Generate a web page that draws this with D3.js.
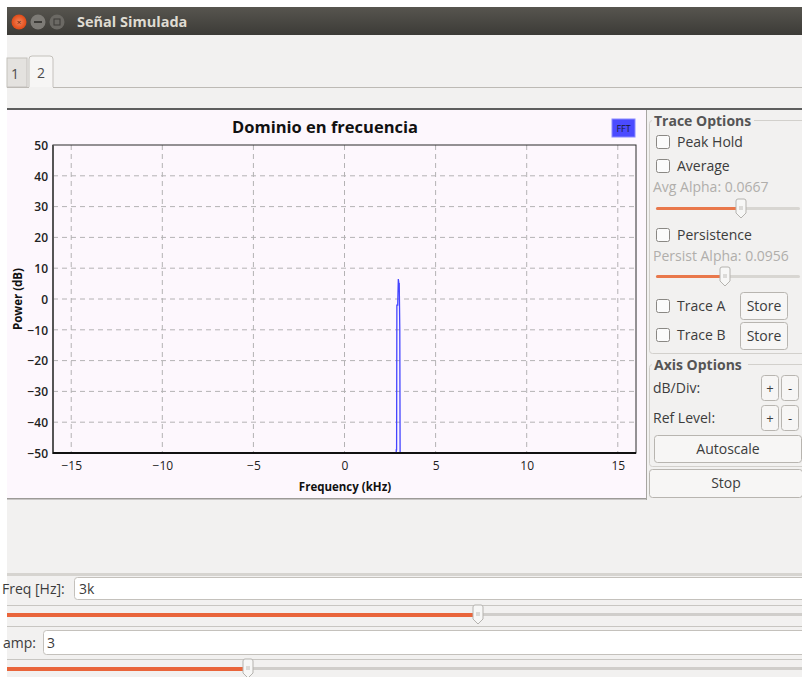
<!DOCTYPE html>
<html><head><meta charset="utf-8">
<script src="https://cdn.jsdelivr.net/npm/d3@7/dist/d3.min.js"></script>
<style>
html,body{margin:0;padding:0;background:#fff;overflow:hidden}
svg{display:block}
text{font-family:"Open Sans","DejaVu Sans",sans-serif}
</style></head><body>
<script>
// ---- data ----
const freqKHz  = [-16, 2.80, 2.84, 2.86, 2.875, 2.92, 2.955, 2.985, 3.005, 3.035, 3.065, 3.10, 16];
const powerDB  = [-140, -140, -49, -49, -2, -2, 6.5, 5, 5, -10, -80, -140, -140];
const xTicks   = [-15, -10, -5, 0, 5, 10, 15];
const yTicks   = [-50, -40, -30, -20, -10, 0, 10, 20, 30, 40, 50];
const xDomain  = [-16, 16];
const yDomain  = [-50, 50];
const chartTitle = "Dominio en frecuencia";
const xLabel = "Frequency (kHz)";
const yLabel = "Power (dB)";

const W = 802, H = 677;
const svg = d3.select("body").append("svg").attr("width", W).attr("height", H);

svg.append("rect").attr("width", W).attr("height", H).attr("fill", "#ffffff");
svg.append("rect").attr("x", 7).attr("y", 7).attr("width", W - 7).attr("height", H - 7).attr("fill", "#f2f1f0");

// title bar
const defs = svg.append("defs");
const tg = defs.append("linearGradient").attr("id", "tb").attr("x1", 0).attr("y1", 0).attr("x2", 0).attr("y2", 1);
tg.append("stop").attr("offset", 0).attr("stop-color", "#57554f");
tg.append("stop").attr("offset", 1).attr("stop-color", "#3c3b37");
svg.append("rect").attr("x", 7).attr("y", 7).attr("width", W - 7).attr("height", 28).attr("fill", "url(#tb)");
const cg = defs.append("radialGradient").attr("id", "cl");
cg.append("stop").attr("offset", 0).attr("stop-color", "#f5845a");
cg.append("stop").attr("offset", 1).attr("stop-color", "#df4a16");
svg.append("circle").attr("cx", 19).attr("cy", 22).attr("r", 7.5).attr("fill", "url(#cl)");
svg.append("text").attr("x", 19).attr("y", 25).attr("text-anchor", "middle").attr("font-size", 8).attr("fill", "#5a2008").text("×");
svg.append("circle").attr("cx", 38).attr("cy", 22).attr("r", 7.5).attr("fill", "#7d7b76");
svg.append("rect").attr("x", 34).attr("y", 21).attr("width", 8).attr("height", 2).attr("fill", "#3c3b37");
svg.append("circle").attr("cx", 57).attr("cy", 22).attr("r", 7.5).attr("fill", "#6b6964");
svg.append("rect").attr("x", 54).attr("y", 19).attr("width", 6).attr("height", 6).attr("fill", "none").attr("stroke", "#3c3b37");
svg.append("text").attr("x", 77).attr("y", 27).attr("font-size", 14.5).attr("font-weight", "bold")
  .attr("fill", "#dfdbd2").attr("font-family", "Open Sans").text("Señal Simulada");

// tabs
svg.append("rect").attr("x", 7).attr("y", 58).attr("width", 20).attr("height", 29).attr("fill", "#e4e2df").attr("stroke", "#c4c1bc");
svg.append("text").attr("x", 15).attr("y", 79).attr("text-anchor", "middle").attr("font-size", 14).attr("fill", "#4c4c4c").text("1");
svg.append("path").attr("d", "M29,87 V59 Q29,56 32,56 H50 Q53,56 53,59 V87").attr("fill", "#f7f6f5").attr("stroke", "#c4c1bc");
svg.append("text").attr("x", 41).attr("y", 78).attr("text-anchor", "middle").attr("font-size", 14).attr("fill", "#4c4c4c").text("2");
svg.append("line").attr("x1", 53).attr("x2", W).attr("y1", 87.5).attr("y2", 87.5).attr("stroke", "#bdbab5");
svg.append("line").attr("x1", 7).attr("x2", 29).attr("y1", 87.5).attr("y2", 87.5).attr("stroke", "#bdbab5");
svg.append("rect").attr("x", 7).attr("y", 108).attr("width", W - 7).attr("height", 2).attr("fill", "#5e5e5e");

// plot widget background
svg.append("rect").attr("x", 7).attr("y", 110).attr("width", 639).attr("height", 388).attr("fill", "#fdf7fd");
svg.append("rect").attr("x", 7).attr("y", 498).attr("width", 639).attr("height", 1.5).attr("fill", "#9c9a97");

// ---- chart ----
const L = 53, R = 636, T = 145, B = 453;
const x = d3.scaleLinear().domain(xDomain).range([L, R]);
const y = d3.scaleLinear().domain(yDomain).range([B, T]);

const g = svg.append("g");
g.selectAll(".vg").data(xTicks).enter().append("line")
  .attr("x1", d => x(d)).attr("x2", d => x(d)).attr("y1", T).attr("y2", B)
  .attr("stroke", "#b4b2b4").attr("stroke-dasharray", "5,4");
g.selectAll(".hg").data(yTicks.filter(v => v > yDomain[0] && v < yDomain[1])).enter().append("line")
  .attr("x1", L).attr("x2", R).attr("y1", d => y(d)).attr("y2", d => y(d))
  .attr("stroke", "#b4b2b4").attr("stroke-dasharray", "5,4");

defs.append("clipPath").attr("id", "pc").append("rect").attr("x", L).attr("y", T).attr("width", R - L).attr("height", B - T);
const pts = freqKHz.map((f, i) => [f, powerDB[i]]);
g.append("path").datum(pts).attr("clip-path", "url(#pc)")
  .attr("d", d3.line().x(d => x(d[0])).y(d => y(d[1])))
  .attr("fill", "none").attr("stroke", "#4545ff").attr("stroke-width", 1.3);

g.append("rect").attr("x", L).attr("y", T).attr("width", R - L).attr("height", B - T)
  .attr("fill", "none").attr("stroke", "#2a2a2a").attr("stroke-width", 1);
g.append("line").attr("x1", L).attr("x2", L).attr("y1", T).attr("y2", B + 1).attr("stroke", "#555").attr("stroke-width", 2);
g.append("line").attr("x1", L).attr("x2", R).attr("y1", B).attr("y2", B).attr("stroke", "#111").attr("stroke-width", 2);

const ya = d3.axisLeft(y).tickValues(yTicks).tickSize(0).tickPadding(5).tickFormat(d3.format("d"));
const yg = g.append("g").attr("transform", `translate(${L},0)`).call(ya);
yg.select(".domain").remove();
yg.selectAll("text").attr("font-size", 12).attr("font-weight", "600").attr("fill", "#222").attr("dy", "0.35em")
  .attr("font-family", "Open Sans");
const xa = d3.axisBottom(x).tickValues(xTicks).tickSize(0).tickPadding(8).tickFormat(d3.format("d"));
const xg = g.append("g").attr("transform", `translate(0,${B})`).call(xa);
xg.select(".domain").remove();
xg.selectAll("text").attr("font-size", 12).attr("fill", "#222").attr("font-family", "Open Sans");

svg.append("text").attr("x", 325).attr("y", 133).attr("text-anchor", "middle").attr("font-size", 16.5)
  .attr("font-weight", "bold").attr("fill", "#111").text(chartTitle);
svg.append("text").attr("x", 345).attr("y", 491).attr("text-anchor", "middle").attr("font-size", 11.5)
  .attr("font-weight", "bold").attr("fill", "#111").text(xLabel);
svg.append("text").attr("transform", "translate(22,299) rotate(-90)").attr("text-anchor", "middle").attr("font-size", 11.5)
  .attr("font-weight", "bold").attr("fill", "#111").text(yLabel);

svg.append("rect").attr("x", 612).attr("y", 119).attr("width", 23).attr("height", 18).attr("fill", "#4b4bff").attr("stroke", "#8a8aff");
svg.append("text").attr("x", 623.5).attr("y", 132).attr("text-anchor", "middle").attr("font-size", 9)
  .attr("fill", "#1a1a30").attr("font-family", "DejaVu Sans").text("FFT");

// ---- right panel ----
const P = svg.append("g");
P.append("rect").attr("x", 646).attr("y", 110).attr("width", W - 646).attr("height", 390).attr("fill", "#f2f1f0");
P.append("line").attr("x1", 646.5).attr("x2", 646.5).attr("y1", 110).attr("y2", 500).attr("stroke", "#a8a6a2");
P.append("rect").attr("x", 649.5).attr("y", 120.5).attr("width", 160).attr("height", 233).attr("rx", 3).attr("fill", "none").attr("stroke", "#d2d0cc");
P.append("rect").attr("x", 649.5).attr("y", 364.5).attr("width", 160).attr("height", 102).attr("rx", 3).attr("fill", "none").attr("stroke", "#d2d0cc");
P.append("rect").attr("x", 652).attr("y", 114).attr("width", 102).attr("height", 14).attr("fill", "#f2f1f0");
P.append("rect").attr("x", 652).attr("y", 358).attr("width", 96).attr("height", 14).attr("fill", "#f2f1f0");
const ptxt = (xx, yy, t, o = {}) => P.append("text").attr("x", xx).attr("y", yy).attr("font-size", o.fs || 14)
  .attr("font-weight", o.fw || "normal").attr("fill", o.c || "#3c3c3c").attr("font-family", "Open Sans").text(t);
ptxt(654, 126, "Trace Options", {fw: "bold", c: "#555"});
ptxt(654, 370, "Axis Options", {fw: "bold", c: "#555"});
const cb = (yy, label) => {
  P.append("rect").attr("x", 656.5).attr("y", yy - 6.5).attr("width", 13).attr("height", 13).attr("rx", 2)
    .attr("fill", "#fbfbfb").attr("stroke", "#8a8884");
  ptxt(677, yy + 5, label);
};
cb(142, "Peak Hold");
cb(166, "Average");
ptxt(653, 192, "Avg Alpha: 0.0667", {c: "#b0aeab"});
cb(235, "Persistence");
ptxt(653, 261, "Persist Alpha: 0.0956", {c: "#b0aeab"});
cb(306, "Trace A");
cb(335, "Trace B");
const handle = (grp, xh, yy) => {
  grp.append("path").attr("d", `M${xh - 5},${yy - 8} Q${xh - 5},${yy - 10} ${xh - 3},${yy - 10} H${xh + 3} Q${xh + 5},${yy - 10} ${xh + 5},${yy - 8} V${yy + 4} L${xh},${yy + 9} L${xh - 5},${yy + 4} Z`)
    .attr("fill", "#f7f7f6").attr("stroke", "#b5b3af");
  grp.append("line").attr("x1", xh - 2).attr("x2", xh + 2).attr("y1", yy - 2).attr("y2", yy - 2).attr("stroke", "#c0beba");
  grp.append("line").attr("x1", xh - 2).attr("x2", xh + 2).attr("y1", yy).attr("y2", yy).attr("stroke", "#c0beba");
};
const slider = (x0, x1, xh, yy) => {
  P.append("rect").attr("x", x0).attr("y", yy - 2).attr("width", x1 - x0).attr("height", 3).attr("rx", 1.5).attr("fill", "#d8d6d2");
  P.append("rect").attr("x", x0).attr("y", yy - 2).attr("width", xh - x0).attr("height", 3).attr("rx", 1.5).attr("fill", "#e9784b");
  handle(P, xh, yy);
};
slider(656, 800, 741, 209);
slider(656, 800, 725, 277);
const btn = (x0, y0, w, h, label, fs) => {
  P.append("rect").attr("x", x0 + 0.5).attr("y", y0 + 0.5).attr("width", w).attr("height", h).attr("rx", 3)
    .attr("fill", "#f7f6f5").attr("stroke", "#b8b5b0");
  P.append("text").attr("x", x0 + w / 2 + 0.5).attr("y", y0 + h / 2 + 5).attr("text-anchor", "middle")
    .attr("font-size", fs || 14).attr("fill", "#3c3c3c").attr("font-family", "Open Sans").text(label);
};
btn(740, 292, 47, 27, "Store");
btn(740, 322, 47, 27, "Store");
ptxt(653, 393, "dB/Div:");
ptxt(653, 423, "Ref Level:");
btn(761, 375, 17, 25, "+", 13);
btn(781, 375, 17, 25, "-", 13);
btn(761, 405, 17, 25, "+", 13);
btn(781, 405, 17, 25, "-", 13);
btn(654, 435, 147, 27, "Autoscale");
btn(649, 469, 153, 28, "Stop");

// ---- bottom controls ----
const Bm = svg.append("g");
Bm.append("rect").attr("x", 0).attr("y", 573).attr("width", 7).attr("height", 104).attr("fill", "#fff");
Bm.append("rect").attr("x", 7).attr("y", 573).attr("width", W - 7).attr("height", 3).attr("fill", "#d6d4d0");
const btxt = (xx, yy, t) => Bm.append("text").attr("x", xx).attr("y", yy).attr("font-size", 14).attr("fill", "#3c3c3c")
  .attr("font-family", "Open Sans").text(t);
Bm.append("rect").attr("x", 74.5).attr("y", 577.5).attr("width", 740).attr("height", 22).attr("rx", 3).attr("fill", "#fff").attr("stroke", "#c4c1bc");
btxt(2, 594, "Freq [Hz]:");
btxt(79, 594, "3k");
const bslider = (x0, x1, xh, yy) => {
  Bm.append("rect").attr("x", x0).attr("y", yy - 2).attr("width", x1 - x0).attr("height", 3).attr("fill", "#d0cecb");
  Bm.append("rect").attr("x", x0).attr("y", yy - 2).attr("width", xh - x0).attr("height", 4).attr("fill", "#e9653b");
  handle(Bm, xh, yy);
};
Bm.append("line").attr("x1", 7).attr("x2", W).attr("y1", 605.5).attr("y2", 605.5).attr("stroke", "#c8c6c2");
Bm.append("line").attr("x1", 7).attr("x2", W).attr("y1", 626.5).attr("y2", 626.5).attr("stroke", "#c8c6c2");
bslider(7, W, 478, 615);
Bm.append("rect").attr("x", 43.5).attr("y", 630.5).attr("width", 770).attr("height", 24).attr("rx", 3).attr("fill", "#fff").attr("stroke", "#c4c1bc");
btxt(3, 648, "amp:");
btxt(47, 648, "3");
Bm.append("line").attr("x1", 7).attr("x2", W).attr("y1", 659.5).attr("y2", 659.5).attr("stroke", "#c8c6c2");
bslider(7, W, 248, 669);
</script>
</body></html>
